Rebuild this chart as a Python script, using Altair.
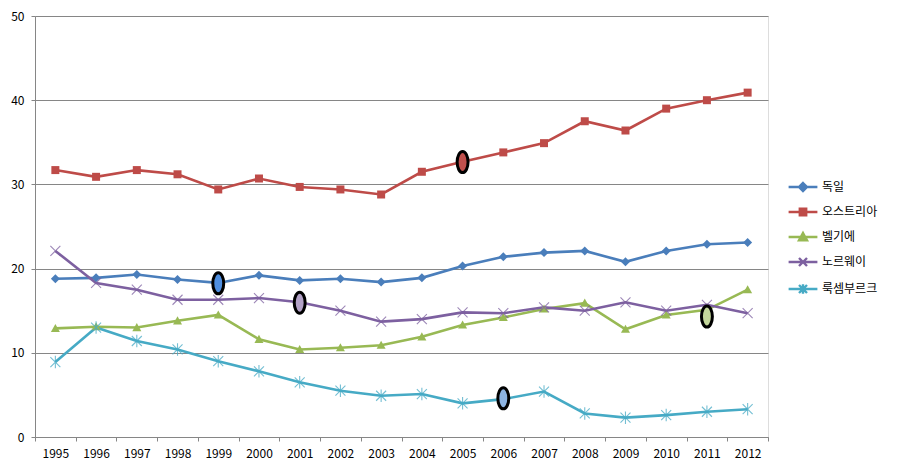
import altair as alt
import pandas as pd

years = ["1995", "1996", "1997", "1998", "1999", "2000", "2001", "2002", "2003",
         "2004", "2005", "2006", "2007", "2008", "2009", "2010", "2011", "2012"]
series_names = ["독일", "오스트리아", "벨기에", "노르웨이", "룩셈부르크"]

germany = [18.8, 18.9, 19.3, 18.7, 18.3, 19.2, 18.6, 18.8, 18.4, 18.9,
           20.3, 21.4, 21.9, 22.1, 20.8, 22.1, 22.9, 23.1]
austria = [31.7, 30.9, 31.7, 31.2, 29.4, 30.7, 29.7, 29.4, 28.8, 31.5,
           32.7, 33.8, 34.9, 37.5, 36.4, 39.0, 40.0, 40.9]
belgium = [12.9, 13.1, 13.0, 13.8, 14.5, 11.6, 10.4, 10.6, 10.9, 11.9,
           13.3, 14.2, 15.2, 15.9, 12.8, 14.5, 15.1, 17.5]
norway = [22.1, 18.3, 17.5, 16.3, 16.3, 16.5, 16.0, 15.0, 13.7, 14.0,
          14.8, 14.7, 15.4, 15.0, 16.0, 15.0, 15.7, 14.7]
luxembourg = [8.9, 13.0, 11.4, 10.4, 9.0, 7.8, 6.5, 5.5, 4.9, 5.1,
              4.0, 4.5, 5.4, 2.8, 2.3, 2.6, 3.0, 3.3]

# hand-drawn ellipse annotations
ann_years = ["1999", "2001", "2005", "2006", "2011"]
ann_values = [18.25, 15.95, 32.65, 4.6, 14.3]

line_colors = ["#4A7EBB", "#BE4B48", "#98B954", "#7D60A0", "#46AAC5"]
ellipse_fills = ["#4F8FE0", "#B3A2C7", "#C0504D", "#8DB4E2", "#C3D69B"]

marker_paths = [
    "M0,-1L1,0L0,1L-1,0Z",
    "M-1,-1L1,-1L1,1L-1,1Z",
    "M0,-1L1,0.8L-1,0.8Z",
    "M-1,-1L1,1M-1,1L1,-1",
    "M-1,-1L1,1M-1,1L1,-1M0,-1.25L0,1.25",
]
marker_filled = [True, True, True, False, False]
marker_sizes = [81, 64, 81, 100, 100]

legend_paths = [
    "M-3.6,0L3.6,0M0,-1L1,0L0,1L-1,0ZM0,-0.45L0.45,0L0,0.45L-0.45,0Z",
    "M-3.6,0L3.6,0M-0.8,-0.8L0.8,-0.8L0.8,0.8L-0.8,0.8ZM-0.3,-0.3L0.3,-0.3L0.3,0.3L-0.3,0.3Z",
    "M-3.6,0L3.6,0M0,-1L1,0.8L-1,0.8ZM0,-0.2L0.35,0.45L-0.35,0.45Z",
    "M-3.6,0L3.6,0M-1,-1L1,1M-1,1L1,-1",
    "M-3.6,0L3.6,0M-1,-1L1,1M-1,1L1,-1M0,-1.2L0,1.2",
]

ellipse_path = ("M0,-1C0.287,-1,0.52,-0.552,0.52,0C0.52,0.552,0.287,1,0,1"
                "C-0.287,1,-0.52,0.552,-0.52,0C-0.52,-0.552,-0.287,-1,0,-1Z")

all_values = [germany, austria, belgium, norway, luxembourg]
rows = []
for name, vals in zip(series_names, all_values):
    for y, v in zip(years, vals):
        rows.append({"year": y, "series": name, "value": v})
df = pd.DataFrame(rows)

ann_df = pd.DataFrame({"year": ann_years, "value": ann_values, "idx": list(range(len(ann_years)))})

FONT = "Noto Sans CJK KR"

x_enc = alt.X(
    "year:O",
    sort=years,
    bandPosition=0.5,
    scale=alt.Scale(type="band", paddingInner=0, paddingOuter=0, domain=years),
    axis=alt.Axis(
        title=None, labelAngle=0, tickBand="extent", tickSize=4,
        tickColor="#868686", domainColor="#868686", grid=False,
        labelFontSize=12, labelColor="#000000", labelPadding=7, labelFont=FONT,
    ),
)
y_enc = alt.Y(
    "value:Q",
    scale=alt.Scale(domain=[0, 50], nice=False),
    axis=alt.Axis(
        title=None, values=[0, 10, 20, 30, 40, 50], tickSize=4,
        tickColor="#868686", domainColor="#868686", grid=True,
        gridColor="#868686", gridWidth=1, labelFontSize=12,
        labelColor="#000000", labelPadding=7, labelFont=FONT,
    ),
)

layers = []
for name, col in zip(series_names, line_colors):
    layers.append(
        alt.Chart(df).mark_line(strokeWidth=2.6, color=col)
        .transform_filter(alt.datum.series == name)
        .encode(x=x_enc, y=y_enc)
    )
for name, col, path, filled, size in zip(series_names, line_colors, marker_paths, marker_filled, marker_sizes):
    if filled:
        mk = alt.Chart(df).mark_point(shape=path, filled=True, size=size, opacity=1,
                                      strokeWidth=0, fill=col)
    else:
        mk = alt.Chart(df).mark_point(shape=path, filled=False, size=size,
                                      strokeWidth=1.1, opacity=0.75, stroke=col)
    layers.append(mk.transform_filter(alt.datum.series == name).encode(x=x_enc, y=y_enc))

for i, fc in enumerate(ellipse_fills):
    layers.append(
        alt.Chart(ann_df).mark_point(
            shape=ellipse_path, filled=True, size=441, fill=fc, stroke="#000000",
            strokeWidth=3, opacity=1,
        ).transform_filter(alt.datum.idx == i).encode(x=x_enc, y=y_enc)
    )

leg = alt.Legend(
    title=None, orient="none", legendX=762, legendY=165,
    symbolSize=64, symbolStrokeWidth=2.4, labelFontSize=12,
    labelFont=FONT, labelColor="#000000", labelOffset=13,
    rowPadding=8, padding=0, symbolOpacity=1,
)
legend_layer = alt.Chart(df).mark_point(filled=False, strokeWidth=2.4, size=0, opacity=1).encode(
    x=x_enc, y=y_enc,
    color=alt.Color("series:N", scale=alt.Scale(domain=series_names, range=line_colors), legend=leg),
    shape=alt.Shape("series:N", scale=alt.Scale(domain=series_names, range=legend_paths), legend=leg),
)
layers.append(legend_layer)

chart = alt.layer(*layers).properties(
    width=733, height=421,
    autosize=alt.AutoSizeParams(type="none"),
    padding={"left": 27, "top": 8, "right": 122, "bottom": 26},
).configure_view(stroke=None).configure(font=FONT, background="#ffffff")

chart.save("out.html", embed_options={"renderer": "svg", "actions": False})
